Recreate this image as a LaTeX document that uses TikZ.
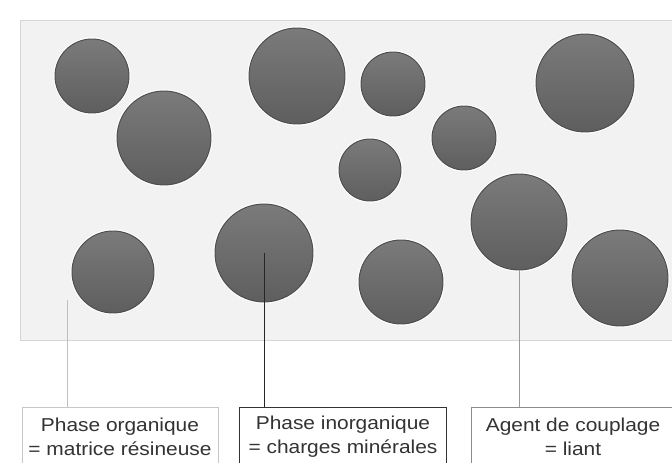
\documentclass[tikz,border=0pt]{standalone}
\usepackage{fontspec}
\setmainfont[FakeStretch=1.12]{Liberation Sans}
\definecolor{fond}{HTML}{F2F2F2}
\definecolor{bord}{HTML}{D6D6D6}
\begin{document}
\begin{tikzpicture}[x=0.75pt, y=-0.75pt]
  \tikzstyle{bille}=[circle, inner sep=0pt, draw=black!70, line width=0.7pt,
    top color=black!52, bottom color=black!63,
    preaction={draw=white, line width=2.4pt}]
  \tikzstyle{boite}=[draw, fill=white, minimum height=45pt, inner sep=0pt,
    align=center, font=\fontsize{14pt}{18pt}\selectfont, text=black!80]
  \tikzstyle{fil}=[line width=0.6pt]

  \useasboundingbox (0,0) rectangle (672,463);

  % matrice (fond gris)
  \draw[fill=fond, draw=bord] (20,20) rectangle (690,340);

  % charges : x / y / rayon
  \foreach \n/\x/\y/\r in {1/92/76/37, 2/164/138/47, 3/297/76/48, 4/113/272/41,
      5/264/253/49, 6/393/84/32, 7/370/170/31, 8/464/138/32,
      9/585/83/49, 10/519/222/48, 11/401/282/42, 12/620/278/48} {
    \node[bille, minimum size=\r*1.5pt] (c\n) at (\x,\y) {};
  }

  % legendes
  \node[boite, draw=black!22, minimum width=147pt] (org) at (120,437)
    {Phase organique\\= matrice résineuse};
  \node[boite, draw=black!80, minimum width=155pt] (inorg) at (343,437)
    {Phase inorganique\\= charges minérales};
  \node[boite, draw=black!45, minimum width=152pt] (agent) at (573,437)
    {Agent de couplage\\= liant};

  % traits de rappel
  \coordinate (p1) at (67,300);
  \draw[fil, black!25] (p1) -- (p1 |- org.north);
  \draw[fil, black!85] (c5.center) -- (c5.center |- inorg.north);
  \draw[fil, black!40] (c10.south) -- (c10.south |- agent.north);
\end{tikzpicture}
\end{document}
